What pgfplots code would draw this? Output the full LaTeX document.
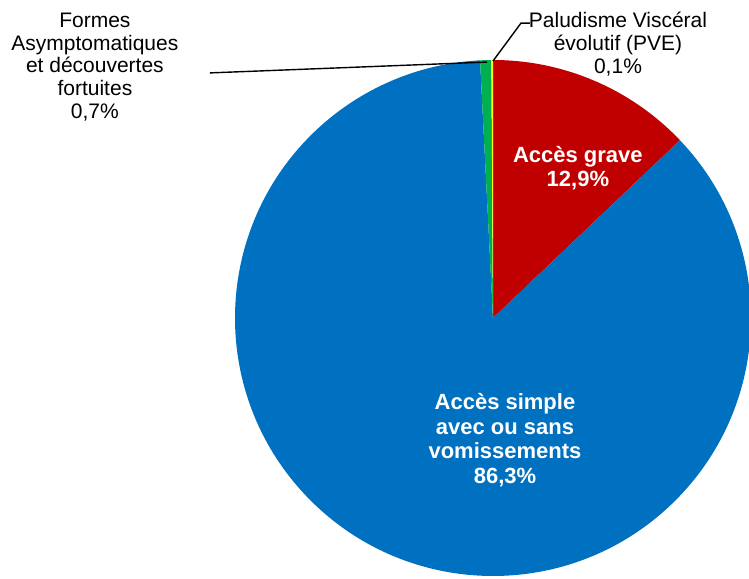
\documentclass[border=0pt]{standalone}
\usepackage{pgfplots}
\pgfplotsset{compat=1.18}
\usepackage{fontspec}
\setmainfont{Liberation Sans}
\definecolor{grave}{RGB}{192,0,0}
\definecolor{simple}{RGB}{0,112,192}
\definecolor{asympt}{RGB}{0,176,80}
\definecolor{pve}{RGB}{255,255,0}

% shares (%), clockwise from 12 o'clock
\def\vGrave{12.9}
\def\vSimple{86.3}
\def\vAsympt{0.7}
\def\vPve{0.1}
\pgfmathsetmacro{\aA}{90}
\pgfmathsetmacro{\aB}{\aA-3.6*\vGrave}
\pgfmathsetmacro{\aC}{\aB-3.6*\vSimple}
\pgfmathsetmacro{\aD}{\aC-3.6*\vAsympt}
\pgfmathsetmacro{\aE}{\aD-3.6*\vPve}

\begin{document}
\begin{tikzpicture}
\begin{axis}[
    x=129pt, y=129pt,
    xmin=-1.9109, xmax=0.9922,
    ymin=-1.0078, ymax=1.2326,
    hide axis,
    clip=false,
    anchor=origin, at={(0,0)},
]
\fill[grave]  (axis cs:0,0) -- (axis cs:{cos(\aA)},{sin(\aA)}) arc[start angle=\aA, end angle=\aB, radius=129pt] -- cycle;
\fill[simple] (axis cs:0,0) -- (axis cs:{cos(\aB)},{sin(\aB)}) arc[start angle=\aB, end angle=\aC, radius=129pt] -- cycle;
\fill[asympt] (axis cs:0,0) -- (axis cs:{cos(\aC)},{sin(\aC)}) arc[start angle=\aC, end angle=\aD, radius=129pt] -- cycle;
\fill[pve]    (axis cs:0,0) -- (axis cs:{cos(\aD)},{sin(\aD)}) arc[start angle=\aD, end angle=\aE, radius=129pt] -- cycle;

% inner labels
\node[font=\fontsize{11}{12.3}\selectfont\bfseries, text=white, align=center]
    at (axis cs:0.329,0.581) {Accès grave\\12,9\%};
\node[font=\fontsize{11}{12.3}\selectfont\bfseries, text=white, align=center]
    at (axis cs:0.0465,-0.473) {Accès simple\\avec ou sans\\vomissements\\86,3\%};

% outer labels with leader lines
\draw[black, line width=0.7pt] (axis cs:-1.097,0.950) -- (axis cs:-0.023,0.992);
\node[font=\fontsize{10.5}{11.4}\selectfont, align=center]
    at (axis cs:-1.543,0.973) {Formes\\Asymptomatiques\\et découvertes\\fortuites\\0,7\%};
\draw[black, line width=0.7pt] (axis cs:0,0.996) -- (axis cs:0.1085,1.143) -- (axis cs:0.143,1.143);
\node[font=\fontsize{10.5}{11.4}\selectfont, align=center]
    at (axis cs:0.4845,1.062) {Paludisme Viscéral\\évolutif (PVE)\\0,1\%};
\end{axis}
\pgfresetboundingbox
\path (-246.5pt,-130pt) rectangle (128pt,159pt);
\end{tikzpicture}
\end{document}
